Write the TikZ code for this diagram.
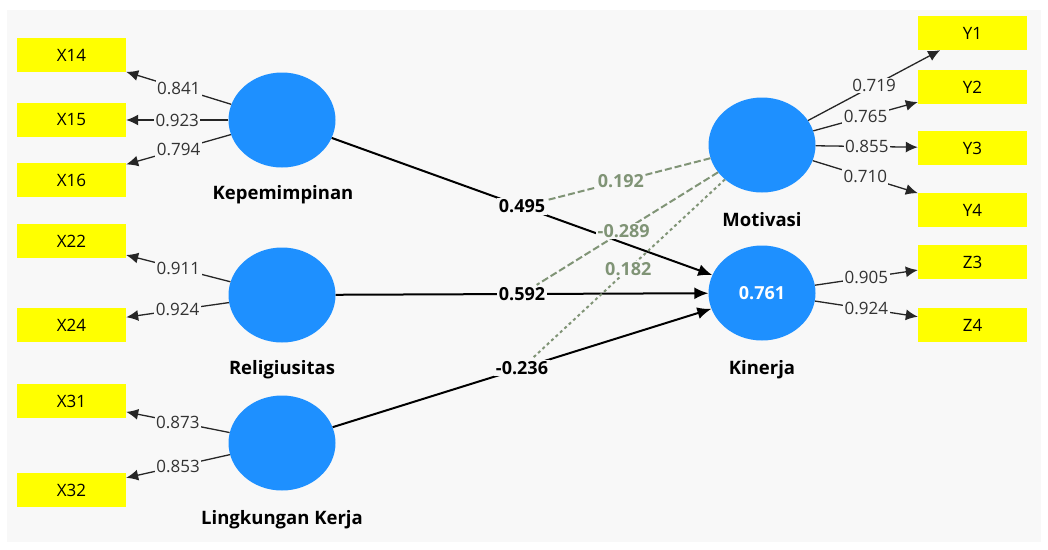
\documentclass[tikz,border=0pt]{standalone}
\usepackage{fontspec}
\setmainfont{Open Sans}
\usetikzlibrary{arrows.meta,shapes.geometric,positioning}
\definecolor{PanelGray}{RGB}{248,248,248}
\definecolor{LatentBlue}{RGB}{30,144,255}
\definecolor{ItemYellow}{RGB}{255,255,0}
\definecolor{ModGreen}{RGB}{128,148,118}
\tikzset{
  latent/.style={ellipse,fill=LatentBlue,minimum width=107pt,minimum height=95pt,inner sep=0pt},
  item/.style={rectangle,fill=ItemYellow,minimum width=109pt,minimum height=34pt,font=\fontsize{17}{19}\selectfont},
  lvname/.style={font=\bfseries\fontsize{18.5}{20}\selectfont},
  load/.style={-{Latex[length=12pt,width=11pt]},line width=1.3pt,black!85},
  loadval/.style={fill=PanelGray,inner sep=1.5pt,text=black!80,font=\fontsize{17}{19}\selectfont},
  effect/.style={-{Latex[length=14pt,width=12pt]},line width=2pt,black},
  effectval/.style={fill=PanelGray,inner sep=1.5pt,font=\bfseries\fontsize{18}{20}\selectfont},
  modline/.style={line width=2pt,ModGreen,dash pattern=on 7pt off 3pt},
  modval/.style={fill=PanelGray,inner sep=1.5pt,text=ModGreen,font=\bfseries\fontsize{18}{20}\selectfont}
}

\begin{document}
\begin{tikzpicture}[x=1pt,y=-1pt]
  \useasboundingbox (0,0) rectangle (1048,549);
  \fill[PanelGray] (7,10) rectangle (1041,542);

  % latent variables
  \node[latent] (kep) at (282,120) {};
  \node[latent] (rel) at (282,295) {};
  \node[latent] (lk)  at (282,443) {};
  \node[latent] (mot) at (762,145) {};
  \node[latent,text=white,font=\bfseries\fontsize{18}{20}\selectfont] (kin) at (762,293) {0.761};
  \node[lvname] (kepname) at (283,195) {Kepemimpinan};
  \node[lvname] (relname) at (282,370) {Religiusitas};
  \node[lvname] (lkname)  at (282,520) {Lingkungan Kerja};
  \node[lvname] (motname) at (762,220) {Motivasi};
  \node[lvname] (kinname) at (762,370) {Kinerja};

  % indicators
  \node[item] (x14) at (71.5,55)  {X14};
  \node[item] (x15) at (71.5,120) {X15};
  \node[item] (x16) at (71.5,180) {X16};
  \node[item] (x22) at (71.5,241) {X22};
  \node[item] (x24) at (71.5,325) {X24};
  \node[item] (x31) at (71.5,401) {X31};
  \node[item] (x32) at (71.5,490) {X32};
  \node[item] (y1) at (972.5,33)  {Y1};
  \node[item] (y2) at (972.5,87)  {Y2};
  \node[item] (y3) at (972.5,148) {Y3};
  \node[item] (y4) at (972.5,210) {Y4};
  \node[item] (z3) at (972.5,262) {Z3};
  \node[item] (z4) at (972.5,325) {Z4};

  % outer loadings
  \draw[load] (kep) -- node[loadval] {0.841} (x14);
  \draw[load] (kep) -- node[loadval] {0.923} (x15);
  \draw[load] (kep) -- node[loadval] {0.794} (x16);
  \draw[load] (rel) -- node[loadval] {0.911} (x22);
  \draw[load] (rel) -- node[loadval] {0.924} (x24);
  \draw[load] (lk) -- node[loadval] {0.873} (x31);
  \draw[load] (lk) -- node[loadval] {0.853} (x32);
  \draw[load] (mot) -- node[loadval] {0.719} (y1);
  \draw[load] (mot) -- node[loadval] {0.765} (y2);
  \draw[load] (mot) -- node[loadval] {0.855} (y3);
  \draw[load] (mot) -- node[loadval] {0.710} (y4);
  \draw[load] (kin) -- node[loadval] {0.905} (z3);
  \draw[load] (kin) -- node[loadval] {0.924} (z4);

  % path coefficients
  \draw[effect] (kep) -- node[effectval] (p1) {0.495} (kin);
  \draw[effect] (rel) -- node[effectval] (p2) {0.592} (kin);
  \draw[effect] (lk) -- node[effectval] (p3) {-0.236} (kin);

  % moderating effects
  \draw[modline] (mot) -- node[modval,pos=.55] {0.192} (p1);
  \draw[modline] (mot) -- node[modval,pos=.52] {-0.289} (p2);
  \draw[modline,dash pattern=on 3pt off 3pt] (mot) -- node[modval] {0.182} (p3);
\end{tikzpicture}
\end{document}
